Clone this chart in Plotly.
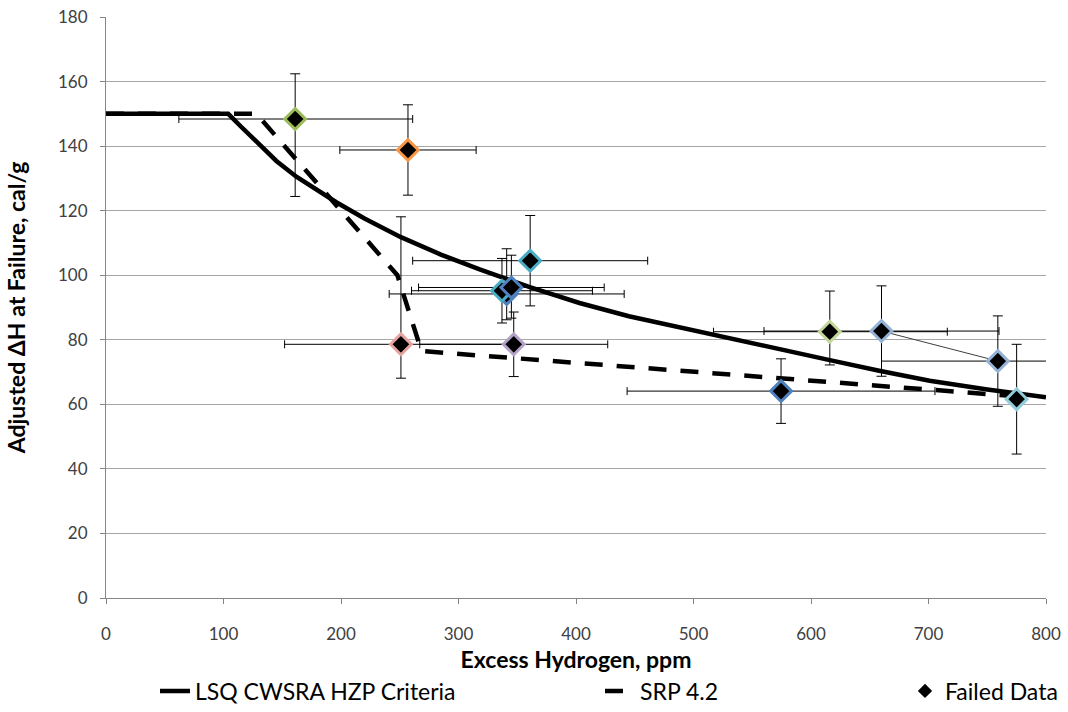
import plotly.graph_objects as go

# ---- data ----
lsq_x = [0, 104, 115, 130, 145, 162, 180, 196, 220, 251, 285, 318, 360, 403, 445, 488, 531, 574, 616, 658, 701, 750, 800]
lsq_y = [150, 150, 146, 140.8, 135.4, 130.5, 126.2, 122.6, 117.6, 111.8, 106.4, 101.8, 96.4, 91.4, 87.3, 83.8, 80.3, 76.9, 73.7, 70.4, 67.3, 64.6, 62.2]

srp_x = [0, 128, 248, 268.5, 775]
srp_y = [150, 150, 100, 76.5, 62.5]

pt_x = [161, 257, 251, 347, 341, 337, 345, 361, 574.5, 616, 660, 759, 775]
pt_y = [148.4, 138.8, 78.6, 78.6, 94.2, 95.2, 96.2, 104.5, 64.1, 82.5, 82.7, 73.4, 61.6]
x_err_plus = [100, 58, 100, 80, 100, 77, 79, 100, 131, 100, 100, 100, 0]
x_err_minus = [99, 58, 99, 80, 100, 77, 79, 100, 131, 99, 100, 99, 0]
y_err_plus = [14, 14, 39.5, 10, 14, 10, 10, 14, 10, 12.6, 14, 14, 17]
y_err_minus = [24, 14, 10.5, 10, 8, 10, 9.5, 14, 10, 10.3, 14, 14, 17]
border_colors = ["#9BBB59", "#F79646", "#E6A3A1", "#B3A2C7", "#4F81BD", "#4BACC6",
                 "#4F81BD", "#4BACC6", "#4F81BD", "#C3D69B", "#95B3D7", "#95B3D7", "#92CDDC"]

link_x = [660, 759]
link_y = [82.7, 73.4]

FONT = "Lato"

fig = go.Figure()

fig.add_trace(go.Scatter(
    x=lsq_x, y=lsq_y, mode="lines", name="LSQ CWSRA HZP Criteria",
    line=dict(color="black", width=4.5),
    legend="legend"))

fig.add_trace(go.Scatter(
    x=srp_x, y=srp_y, mode="lines", name="SRP 4.2",
    line=dict(color="black", width=4.5, dash="18px,14px"),
    legend="legend2"))

fig.add_trace(go.Scatter(
    x=link_x, y=link_y, mode="lines", showlegend=False,
    line=dict(color="#404040", width=1), hoverinfo="skip"))

fig.add_trace(go.Scatter(
    x=pt_x, y=pt_y, mode="markers", name="Failed Data", showlegend=False,
    marker=dict(symbol="diamond", size=16, color="black",
                line=dict(color=border_colors, width=3)),
    error_x=dict(type="data", symmetric=False, array=x_err_plus, arrayminus=x_err_minus,
                 color="black", thickness=1, width=4),
    error_y=dict(type="data", symmetric=False, array=y_err_plus, arrayminus=y_err_minus,
                 color="black", thickness=1, width=5)))

# legend-only entry for the data series (plain black diamond as in the original legend)
fig.add_trace(go.Scatter(
    x=[None], y=[None], mode="markers", name="Failed Data",
    marker=dict(symbol="diamond", size=11, color="black"),
    legend="legend3"))

leg_common = dict(orientation="h", yanchor="middle", y=-(691 - 598) / 581, xanchor="left",
                  font=dict(family=FONT, size=23, color="black"),
                  bgcolor="rgba(0,0,0,0)")

fig.update_layout(
    width=1068, height=712,
    margin=dict(l=106, r=22, t=17, b=114, autoexpand=False),
    paper_bgcolor="white", plot_bgcolor="white",
    font=dict(family=FONT, size=17, color="black"),
    legend=dict(leg_common, x=(155 - 106) / 940),
    legend2=dict(leg_common, x=(600 - 106) / 940),
    legend3=dict(leg_common, x=(905 - 106) / 940),
    xaxis=dict(range=[0, 800], dtick=100, showgrid=False, zeroline=False,
               showline=True, linecolor="#868686", linewidth=1,
               ticks="outside", ticklen=5, tickcolor="#868686", ticklabelstandoff=16,
               tickfont=dict(family=FONT, size=17, color="#404040"),
               title=dict(text="<b>Excess Hydrogen, ppm</b>",
                          font=dict(family=FONT, size=23, color="black"), standoff=8)),
    yaxis=dict(range=[0, 180], dtick=20, showgrid=True, gridcolor="#A6A6A6", gridwidth=1,
               zeroline=False, showline=True, linecolor="#868686", linewidth=1,
               ticks="outside", ticklen=5, tickcolor="#868686", ticklabelstandoff=9,
               tickfont=dict(family=FONT, size=17, color="#404040"),
               title=dict(text="<b>Adjusted ΔH at Failure, cal/g</b>",
                          font=dict(family=FONT, size=23, color="black"), standoff=25)),
)

fig.write_html("out.html")
